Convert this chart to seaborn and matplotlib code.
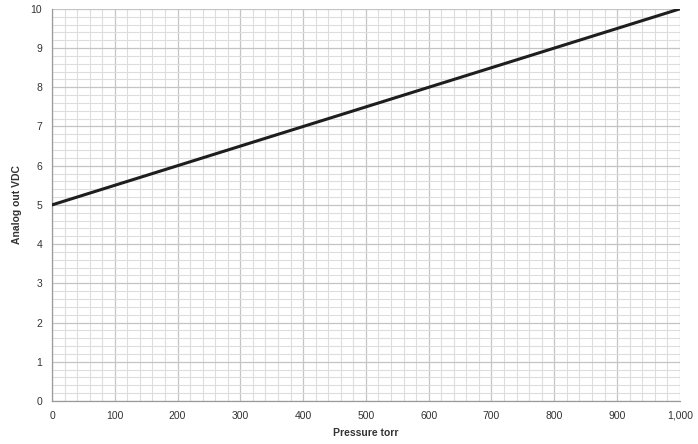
import matplotlib
matplotlib.use("Agg")
import matplotlib.pyplot as plt
import matplotlib.ticker as mticker
import seaborn as sns
import pandas as pd

# data: linear 5 V at 0 torr to 10 V at 1000 torr
pressure = [0, 1000]
voltage = [5, 10]

df = pd.DataFrame({"Pressure torr": pressure, "Analog out VDC": voltage})

sns.set_style("white")
plt.rcParams["font.family"] = ["Liberation Sans", "DejaVu Sans"]

fig = plt.figure(figsize=(6.98, 4.44), dpi=100)
ax = fig.add_axes([0.0745, 0.097, 0.8995, 0.883])

sns.lineplot(data=df, x="Pressure torr", y="Analog out VDC", ax=ax,
             color="#1e1e1e", linewidth=2.2, zorder=5)

ax.set_xlim(0, 1000)
ax.set_ylim(0, 10)
ax.xaxis.set_major_locator(mticker.MultipleLocator(100))
ax.xaxis.set_minor_locator(mticker.MultipleLocator(20))
ax.yaxis.set_major_locator(mticker.MultipleLocator(1))
ax.yaxis.set_minor_locator(mticker.MultipleLocator(0.2))
ax.xaxis.set_major_formatter(mticker.FuncFormatter(lambda v, p: f"{int(v):,}"))

ax.grid(which="major", color="#c4c4c4", linewidth=0.9)
ax.grid(which="minor", color="#dddddd", linewidth=0.8)
ax.set_axisbelow(True)

for s in ["top", "right"]:
    ax.spines[s].set_visible(False)
for s in ["left", "bottom"]:
    ax.spines[s].set_color("#9a9a9a")
    ax.spines[s].set_linewidth(0.9)

ax.tick_params(which="major", direction="out", length=3, width=0.8,
               color="#9a9a9a", labelsize=7.5, labelcolor="#333333", pad=4)
ax.tick_params(which="minor", length=0)

ax.set_xlabel("Pressure torr", fontsize=7.5, fontweight="bold", color="#333333", labelpad=5)
ax.set_ylabel("Analog out VDC", fontsize=7.5, fontweight="bold", color="#333333", labelpad=6)

fig.savefig("out.png", dpi=100)
